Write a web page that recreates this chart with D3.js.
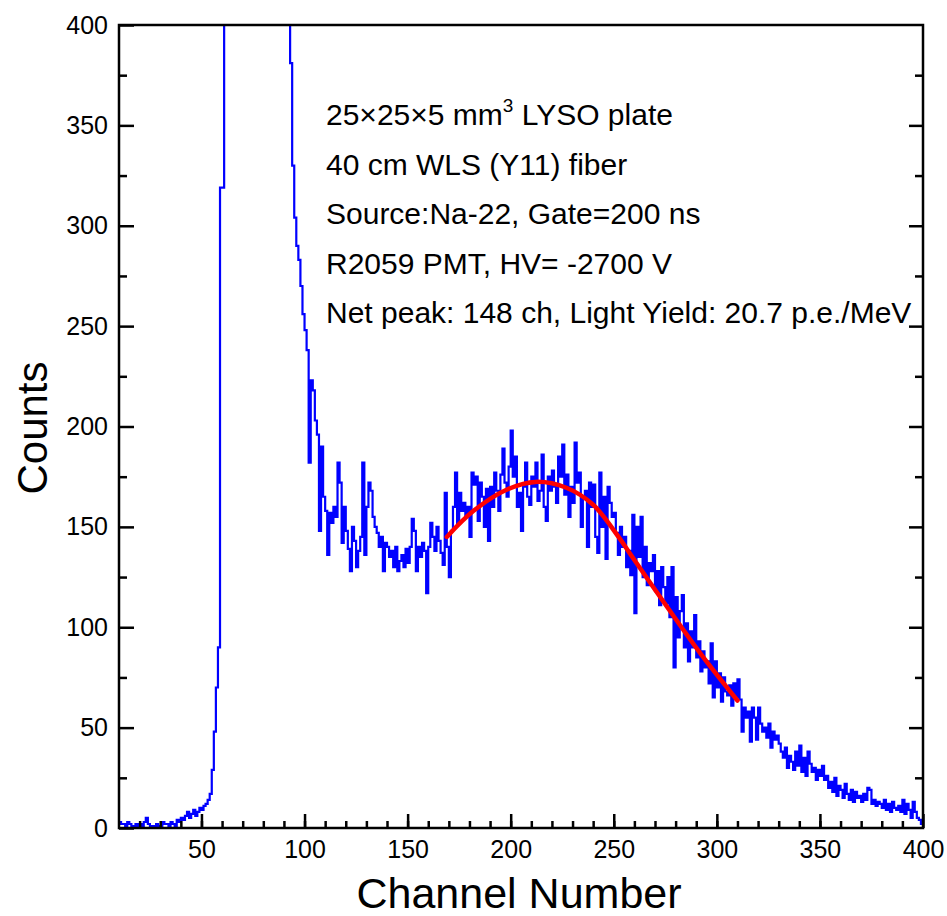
<!DOCTYPE html>
<html>
<head>
<meta charset="utf-8">
<script src="https://cdn.jsdelivr.net/npm/d3@7"></script>
<style>
  body { margin: 0; background: #fff; }
  svg text { font-family: 'Liberation Sans', Arial, sans-serif; fill: #000; }
</style>
</head>
<body>
<svg id="chart" width="947" height="916"></svg>
<script>
// ── Data ─────────────────────────────────────────────
// spectrum, one bin per channel, starting at channel 10
const firstChannel = 10;
const counts = [
  3, 2, 2, 1, 3, 2, 1, 0, 2, 1,                          // 10
  2, 1, 3, 5, 2, 1, 1, 0, 2, 1,                          // 20
  1, 3, 2, 2, 1, 3, 2, 1, 4, 3,                          // 30
  5, 4, 6, 8, 5, 7, 9, 6, 8, 10,                         // 40
  9, 11, 12, 14, 17, 29, 48, 70, 90, 319,                // 50
  319, 440, 560, 690, 800, 880, 940, 980, 1000, 1010,    // 60 (off scale)
  1000, 990, 970, 950, 920, 890, 860, 820, 790, 750,     // 70
  720, 690, 650, 620, 590, 560, 530, 500, 480, 455,      // 80
  435, 418, 405, 381, 330, 304, 290, 283, 270, 256,      // 90
  248, 238, 182, 223, 218, 203, 196, 148, 190, 165,      // 100
  158, 136, 157, 152, 160, 155, 182, 172, 142, 160,      // 110
  148, 139, 128, 150, 143, 130, 138, 145, 182, 136,      // 120
  160, 172, 168, 155, 150, 147, 140, 145, 128, 142,      // 130
  140, 135, 138, 130, 140, 128, 133, 136, 130, 139,      // 140
  132, 140, 154, 148, 128, 140, 135, 142, 138, 117,      // 150
  140, 152, 145, 138, 150, 143, 137, 131, 167, 140,      // 160
  125, 148, 160, 177, 152, 167, 158, 162, 155, 160,      // 170
  145, 177, 171, 175, 153, 172, 165, 150, 169, 143,      // 180
  170, 160, 177, 168, 158, 176, 189, 172, 165, 180,      // 190
  198, 175, 185, 160, 167, 148, 170, 182, 165, 161,      // 200
  175, 170, 182, 163, 168, 186, 160, 153, 175, 168,      // 210
  178, 170, 162, 185, 175, 191, 166, 176, 155, 170,      // 220
  162, 192, 172, 177, 150, 165, 168, 140, 172, 160,      // 230
  171, 145, 137, 177, 150, 165, 134, 170, 162, 155,      // 240
  157, 147, 136, 150, 140, 145, 130, 138, 126, 156,      // 250
  107, 150, 135, 155, 125, 140, 121, 132, 128, 136,      // 260
  118, 128, 111, 130, 120, 112, 125, 105, 130, 80,       // 270
  115, 95, 108, 116, 90, 102, 83, 98, 90, 106,           // 280
  85, 93, 78, 88, 80, 83, 72, 92, 65, 83,                // 290
  70, 77, 63, 75, 68, 66, 71, 61, 72, 65,                // 300
  74, 64, 48, 60, 55, 58, 43, 60, 55, 44,                // 310
  60, 52, 48, 50, 45, 52, 40, 48, 44, 46,                // 320
  42, 38, 35, 40, 30, 36, 33, 29, 38, 31,                // 330
  41, 28, 35, 26, 38, 32, 28, 30, 24, 29,                // 340
  26, 31, 24, 26, 20, 23, 18, 25, 16, 21,                // 350
  19, 15, 22, 17, 14, 19, 13, 18, 15, 16,                // 360
  13, 17, 14, 20, 19, 12, 14, 11, 13, 12,                // 370
  10, 14, 9, 12, 8, 13, 10, 9, 11, 8,                    // 380
  14, 7, 12, 9, 5, 13, 8, 5, 4, 2                        // 390
];

// fitted photo-peak, points
const fitChannel = [169, 182, 198, 212, 227, 240, 253, 259, 276, 292, 310];
const fitCounts  = [145, 158, 168.5, 172.4, 169.5, 161, 144, 135, 110, 87, 63.5];

const xMajorTicks = [50, 100, 150, 200, 250, 300, 350, 400];
const yMajorTicks = [0, 50, 100, 150, 200, 250, 300, 350, 400];

const infoLines = [
  '40 cm WLS (Y11) fiber',
  'Source:Na-22, Gate=200 ns',
  'R2059 PMT, HV= -2700 V',
  'Net peak: 148 ch, Light Yield: 20.7 p.e./MeV'
];

// ── Layout ───────────────────────────────────────────
const L = 119, R = 923, T = 25, B = 828;
const svg = d3.select('#chart');
const x = d3.scaleLinear().domain([10, 400]).range([L, R]);
const y = d3.scaleLinear().domain([0, 400]).range([B, T]);

svg.append('defs').append('clipPath').attr('id', 'plot-clip')
  .append('rect').attr('x', L).attr('y', T).attr('width', R - L).attr('height', B - T);

// ── Spectrum (step line) ─────────────────────────────
const pts = counts.map((c, i) => [firstChannel + i, c]);
pts.push([firstChannel + counts.length, counts[counts.length - 1]]);

const step = d3.line()
  .x(d => x(d[0]))
  .y(d => y(d[1]))
  .curve(d3.curveStepAfter);

svg.append('path')
  .datum(pts)
  .attr('clip-path', 'url(#plot-clip)')
  .attr('fill', 'none')
  .attr('stroke', '#0000ff')
  .attr('stroke-width', 2.2)
  .attr('d', step);

// ── Fit curve ────────────────────────────────────────
const fit = d3.line()
  .x((d, i) => x(fitChannel[i]))
  .y(d => y(d))
  .curve(d3.curveCatmullRom);

svg.append('path')
  .datum(fitCounts)
  .attr('fill', 'none')
  .attr('stroke', '#ff0000')
  .attr('stroke-width', 4.5)
  .attr('stroke-linecap', 'round')
  .attr('d', fit);

// ── Axes ─────────────────────────────────────────────
function styleAxis(g) {
  g.select('.domain').remove();
  g.selectAll('.tick line').attr('stroke', '#000').attr('stroke-width', 2.5);
  g.selectAll('.tick text')
    .attr('font-size', '25px')
    .attr('font-family', "'Liberation Sans', Arial, sans-serif")
    .attr('fill', '#000');
}

svg.append('g').attr('transform', `translate(0,${B})`)
  .call(d3.axisBottom(x).tickValues(d3.range(20, 400, 10)).tickSize(-7).tickFormat(''))
  .call(styleAxis);
svg.append('g').attr('transform', `translate(0,${B})`)
  .call(d3.axisBottom(x).tickValues(xMajorTicks).tickSize(-14).tickPadding(12).tickFormat(d3.format('d')))
  .call(styleAxis);

svg.append('g').attr('transform', `translate(${L},0)`)
  .call(d3.axisLeft(y).tickValues(d3.range(25, 400, 50)).tickSize(-8).tickFormat(''))
  .call(styleAxis);
svg.append('g').attr('transform', `translate(${L},0)`)
  .call(d3.axisLeft(y).tickValues(yMajorTicks).tickSize(-15).tickPadding(11).tickFormat(d3.format('d')))
  .call(styleAxis);

svg.append('g').attr('transform', `translate(${R},0)`)
  .call(d3.axisRight(y).tickValues(d3.range(25, 400, 50)).tickSize(-8).tickFormat(''))
  .call(styleAxis);
svg.append('g').attr('transform', `translate(${R},0)`)
  .call(d3.axisRight(y).tickValues(yMajorTicks.slice(1, -1)).tickSize(-14).tickFormat(''))
  .call(styleAxis);

// frame
svg.append('rect')
  .attr('x', L).attr('y', T)
  .attr('width', R - L).attr('height', B - T)
  .attr('fill', 'none')
  .attr('stroke', '#000')
  .attr('stroke-width', 2.5);

// ── Axis titles ──────────────────────────────────────
svg.append('text')
  .attr('x', 519).attr('y', 908)
  .attr('text-anchor', 'middle')
  .attr('font-size', '43px')
  .text('Channel Number');

svg.append('text')
  .attr('transform', 'translate(47,428) rotate(-90)')
  .attr('text-anchor', 'middle')
  .attr('font-size', '42px')
  .text('Counts');

// ── Annotation ───────────────────────────────────────
const info = svg.append('g').attr('font-size', '30px');
const first = info.append('text').attr('x', 326).attr('y', 125);
first.append('tspan').text('25×25×5 mm');
first.append('tspan').attr('dy', -13).attr('font-size', '19px').text('3');
first.append('tspan').attr('dy', 13).text(' LYSO plate');

info.selectAll('text.line')
  .data(infoLines)
  .join('text')
  .attr('class', 'line')
  .attr('x', 326)
  .attr('y', (d, i) => 174.5 + i * 49.5)
  .text(d => d);
</script>
</body>
</html>
